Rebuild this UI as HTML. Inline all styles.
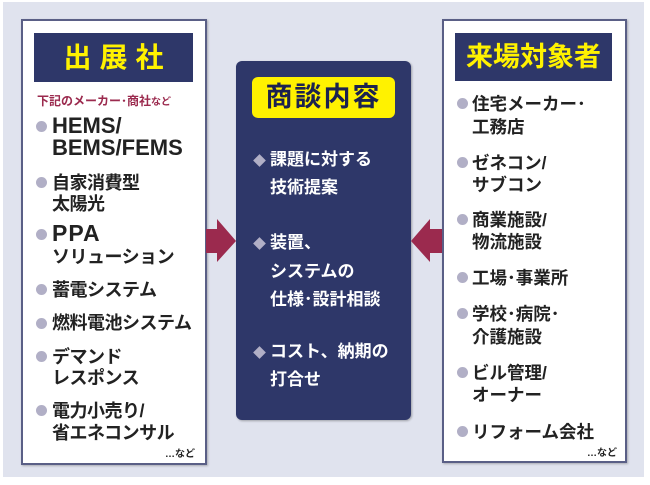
<!DOCTYPE html>
<html><head><meta charset="utf-8"><style>
*{margin:0;padding:0;box-sizing:border-box}
body{width:650px;height:485px;background:#fff;position:relative;overflow:hidden;font-family:"Liberation Sans","Noto Sans CJK JP",sans-serif;font-weight:bold}
.a{position:absolute;white-space:nowrap}
.bg{left:3px;top:2px;width:641px;height:475px;background:#e0e3ee}
.panel{background:#fff;border:2px solid #5a5f86;box-shadow:1px 1px 2px rgba(0,0,0,.25)}
.t{background:#2e3769;color:#fff200;text-align:center}
.l{color:#222;font-size:18px;line-height:20px;letter-spacing:-0.5px}
.r{color:#222;font-size:17.5px;line-height:18px}
.c{color:#fff;font-size:17px;line-height:18px}
.dot{position:absolute;width:11px;height:11px;border-radius:50%;background:#b1afc6}
.dia{position:absolute;width:9px;height:9px;background:#b1afc6;transform:rotate(45deg)}
</style></head><body>
<div class="a bg"></div>
<div class="a panel" style="left:21px;top:19px;width:186px;height:446px"></div>
<div class="a t" style="left:34px;top:33px;width:159px;height:49px;font-size:28px;line-height:49px;letter-spacing:8px;padding-left:8px">出展社</div>
<div class="a" style="left:37px;top:92px;font-size:12px;color:#9b2a4e">下記のメーカー･商社<span style="font-size:10px">など</span></div>

<div class="dot" style="left:36px;top:121px"></div><div class="a l" style="left:52px;top:116px;font-size:22px;letter-spacing:0;font-family:'Liberation Sans',sans-serif">HEMS/</div>
<div class="a l" style="left:52px;top:138px;font-size:22px;letter-spacing:0;font-family:'Liberation Sans',sans-serif">BEMS/FEMS</div>
<div class="dot" style="left:36px;top:177px"></div><div class="a l" style="left:52px;top:173px">自家消費型</div>
<div class="a l" style="left:52px;top:194px">太陽光</div>
<div class="dot" style="left:36px;top:229px"></div><div class="a l" style="left:52px;top:223px;font-size:23px;letter-spacing:1px;font-family:'Liberation Sans',sans-serif">PPA</div>
<div class="a l" style="left:52px;top:247px">ソリューション</div>
<div class="dot" style="left:36px;top:284px"></div><div class="a l" style="left:52px;top:280px">蓄電システム</div>
<div class="dot" style="left:36px;top:318px"></div><div class="a l" style="left:52px;top:313px">燃料電池システム</div>
<div class="dot" style="left:36px;top:351px"></div><div class="a l" style="left:52px;top:347px">デマンド</div>
<div class="a l" style="left:52px;top:368px">レスポンス</div>
<div class="dot" style="left:36px;top:405px"></div><div class="a l" style="left:52px;top:401px">電力小売り/</div>
<div class="a l" style="left:52px;top:423px">省エネコンサル</div>
<div class="a" style="left:165px;top:445px;font-size:10px;color:#222">…など</div>

<div class="a" style="left:236px;top:61px;width:175px;height:359px;background:#2e3769;border-radius:6px;box-shadow:1px 1px 2px rgba(0,0,0,.3)"></div>
<div class="a" style="left:252px;top:77px;width:143px;height:41px;background:#fff200;border-radius:6px;color:#1c2250;font-size:27px;line-height:41px;text-align:center;letter-spacing:2px">商談内容</div>
<div class="dia" style="left:255px;top:156px"></div><div class="a c" style="left:270px;top:151px">課題に対する</div>
<div class="a c" style="left:270px;top:179px">技術提案</div>
<div class="dia" style="left:255px;top:239px"></div><div class="a c" style="left:270px;top:234px">装置、</div>
<div class="a c" style="left:270px;top:263px">システムの</div>
<div class="a c" style="left:270px;top:291px">仕様･設計相談</div>
<div class="dia" style="left:255px;top:348px"></div><div class="a c" style="left:270px;top:343px">コスト、納期の</div>
<div class="a c" style="left:270px;top:371px">打合せ</div>

<svg class="a" style="left:0;top:0" width="650" height="485">
<polygon points="206,229 217,229 217,219 236,241 217,262 217,253 206,253" fill="#9b2a4e"/>
<polygon points="442,229 430,229 430,219 411,241 430,262 430,253 442,253" fill="#9b2a4e"/>
</svg>

<div class="a panel" style="left:442px;top:19px;width:185px;height:444px"></div>
<div class="a t" style="left:455px;top:33px;width:157px;height:48px;font-size:27px;line-height:48px">来場対象者</div>
<div class="dot" style="left:457px;top:98px"></div><div class="a r" style="left:472px;top:95px">住宅メーカー･</div>
<div class="a r" style="left:472px;top:118px">工務店</div>
<div class="dot" style="left:457px;top:157px"></div><div class="a r" style="left:472px;top:154px">ゼネコン/</div>
<div class="a r" style="left:472px;top:176px">サブコン</div>
<div class="dot" style="left:457px;top:214px"></div><div class="a r" style="left:472px;top:211px">商業施設/</div>
<div class="a r" style="left:472px;top:233px">物流施設</div>
<div class="dot" style="left:457px;top:272px"></div><div class="a r" style="left:472px;top:269px">工場･事業所</div>
<div class="dot" style="left:457px;top:308px"></div><div class="a r" style="left:472px;top:305px">学校･病院･</div>
<div class="a r" style="left:472px;top:328px">介護施設</div>
<div class="dot" style="left:457px;top:367px"></div><div class="a r" style="left:472px;top:364px">ビル管理/</div>
<div class="a r" style="left:472px;top:386px">オーナー</div>
<div class="dot" style="left:457px;top:426px"></div><div class="a r" style="left:472px;top:423px">リフォーム会社</div>
<div class="a" style="left:587px;top:444px;font-size:10px;color:#222">…など</div>
</body></html>
